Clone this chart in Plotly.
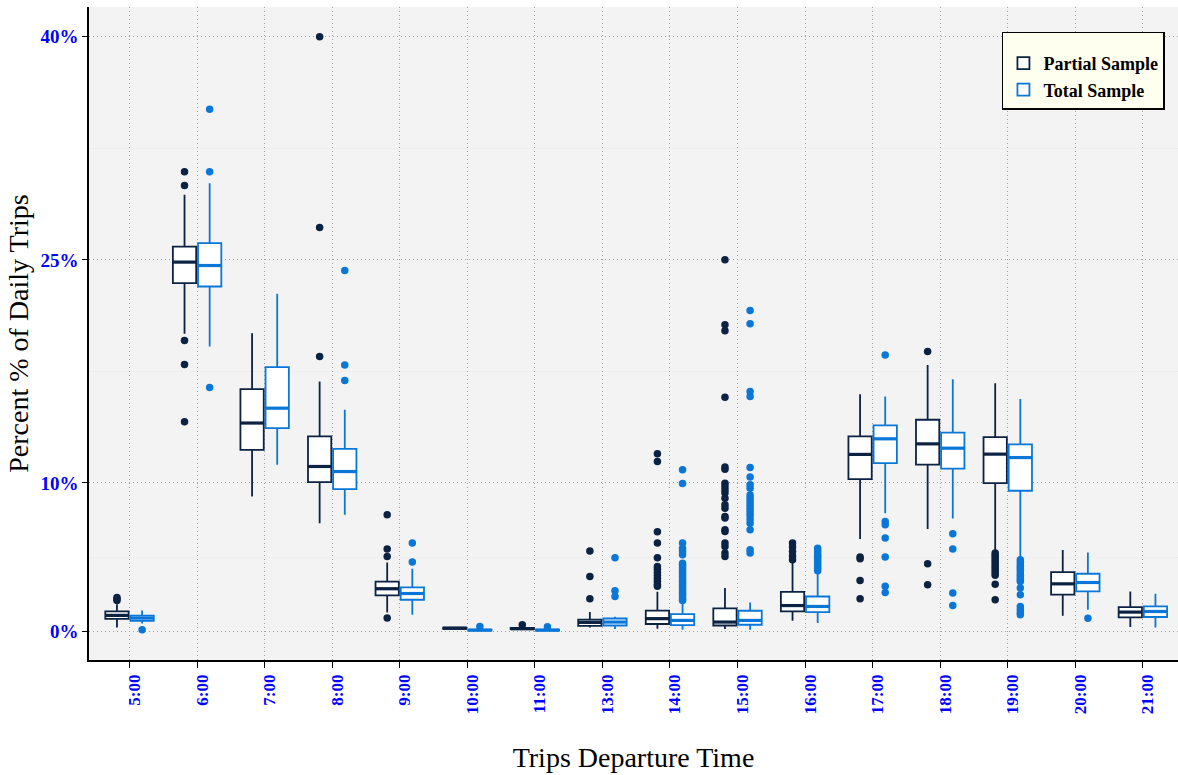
import plotly.graph_objects as go

# Departure hours (categories on the x axis)
hours = ["5:00", "6:00", "7:00", "8:00", "9:00", "10:00", "11:00", "13:00",
         "14:00", "15:00", "16:00", "17:00", "18:00", "19:00", "20:00", "21:00"]

# Box statistics, percent of daily trips — Partial Sample
partial_lower = [0.29, 20.03, 9.09, 7.30, 1.30, 0.15, 0.12, 0.29, 0.20, 0.18, 0.74, 6.23, 6.90, 5.40, 1.08, 0.32]
partial_q1 = [0.87, 23.43, 12.23, 10.06, 2.44, 0.20, 0.17, 0.40, 0.52, 0.42, 1.37, 10.26, 11.24, 9.99, 2.49, 0.96]
partial_median = [1.10, 24.85, 14.03, 11.11, 2.89, 0.24, 0.20, 0.63, 0.88, 0.65, 1.76, 11.92, 12.63, 11.94, 3.22, 1.32]
partial_q3 = [1.37, 25.89, 16.31, 13.13, 3.37, 0.28, 0.25, 0.81, 1.42, 1.57, 2.68, 13.13, 14.25, 13.08, 4.01, 1.66]
partial_upper = [1.85, 29.37, 20.07, 16.82, 4.65, 0.32, 0.30, 1.32, 2.68, 2.94, 4.64, 15.97, 17.94, 16.71, 5.49, 2.71]
partial_outliers = [
    [2.10, 2.20, 2.30],
    [30.93, 30.00, 19.58, 17.96, 14.11],
    [],
    [40.00, 27.17, 18.50],
    [7.86, 5.56, 5.06, 0.92],
    [],
    [0.47],
    [5.42, 3.72, 2.22],
    [11.96, 11.45, 6.72, 5.96, 4.97, 4.39, 4.20, 4.00, 3.80, 3.60, 3.40, 3.20, 3.05],
    [25.00, 20.63, 20.23, 15.77, 11.07, 10.93, 9.99, 9.77, 9.54, 9.32, 8.98, 8.53,
     8.31, 7.75, 7.64, 6.85, 6.74, 5.96, 5.73, 5.29, 5.06],
    [5.96, 5.70, 5.40, 5.10, 4.84],
    [5.02, 4.90, 3.45, 2.22],
    [18.84, 4.57, 3.16],
    [5.30, 5.15, 5.00, 4.85, 4.70, 4.55, 4.40, 4.25, 4.10, 3.95, 3.80, 3.20, 2.15],
    [],
    [],
]

# Box statistics, percent of daily trips — Total Sample
total_lower = [0.55, 19.18, 11.22, 7.86, 1.14, 0.05, 0.05, 0.18, 0.13, 0.13, 0.58, 7.97, 7.62, 4.95, 1.48, 0.29]
total_q1 = [0.74, 23.21, 13.69, 9.59, 2.15, 0.08, 0.08, 0.42, 0.45, 0.47, 1.32, 11.33, 10.97, 9.48, 2.71, 0.99]
total_median = [0.92, 24.62, 15.03, 10.77, 2.57, 0.11, 0.11, 0.65, 0.76, 0.76, 1.70, 12.97, 12.34, 11.71, 3.31, 1.36]
total_q3 = [1.08, 26.12, 17.79, 12.30, 2.98, 0.14, 0.14, 0.89, 1.19, 1.41, 2.37, 13.87, 13.39, 12.59, 3.90, 1.70]
total_upper = [1.43, 30.15, 22.72, 14.92, 4.23, 0.20, 0.20, 1.00, 1.97, 1.97, 3.94, 15.81, 16.98, 15.64, 5.33, 2.55]
total_outliers = [
    [0.13],
    [35.13, 30.93, 16.42],
    [],
    [24.28, 17.94, 16.89],
    [5.96, 4.68],
    [0.36],
    [0.34],
    [4.97, 2.76, 2.37],
    [10.89, 9.97, 5.96, 5.62, 5.40, 5.17, 4.60, 4.45, 4.30, 4.15, 4.00, 3.85, 3.70,
     3.55, 3.40, 3.25, 3.10, 2.95, 2.80, 2.65, 2.50, 2.35, 2.20, 2.10],
    [21.59, 20.70, 16.15, 15.81, 11.04, 10.40, 9.88, 9.65, 9.20, 9.00, 8.80, 8.60,
     8.40, 8.20, 8.00, 7.80, 7.55, 7.30, 6.85, 5.51, 5.30],
    [5.62, 5.45, 5.30, 5.15, 5.00, 4.85, 4.70, 4.55, 4.40, 4.25, 4.10],
    [18.60, 7.41, 7.19, 6.30, 5.02, 3.05, 2.64],
    [6.59, 5.56, 2.60, 1.77],
    [4.84, 4.70, 4.55, 4.40, 4.25, 4.10, 3.95, 3.80, 3.65, 3.50, 3.38, 2.94, 2.49,
     1.70, 1.50, 1.30, 1.14],
    [0.90],
    [],
]

y_ticks = [0, 10, 25, 40]
y_tick_labels = ["0%", "10%", "25%", "40%"]
y_minor = [5, 17.5, 32.5]

PARTIAL_COLOR = "#0b2242"
TOTAL_COLOR = "#0a77d8"
BOX_WIDTH = 0.345
DODGE = 0.186
GRID_DASH = "1px,3px"

series = [
    ("Partial Sample", PARTIAL_COLOR, -DODGE, partial_lower, partial_q1, partial_median,
     partial_q3, partial_upper, partial_outliers),
    ("Total Sample", TOTAL_COLOR, DODGE, total_lower, total_q1, total_median,
     total_q3, total_upper, total_outliers),
]

fig = go.Figure()

for name, color, shift, lo, q1, med, q3, hi, outs in series:
    pos = [i + shift for i in range(len(hours))]
    fig.add_trace(go.Box(
        name=name, x=pos, q1=q1, median=med, q3=q3,
        lowerfence=lo, upperfence=hi,
        width=BOX_WIDTH, whiskerwidth=0, boxpoints=False,
        fillcolor="white", line=dict(color=color, width=1.8),
        hoverinfo="skip",
    ))

for name, color, shift, lo, q1, med, q3, hi, outs in series:
    # thicker median bars
    mx, my = [], []
    for i, m in enumerate(med):
        c = i + shift
        mx += [c - BOX_WIDTH / 2, c + BOX_WIDTH / 2, None]
        my += [m, m, None]
    fig.add_trace(go.Scatter(x=mx, y=my, mode="lines", showlegend=False,
                             line=dict(color=color, width=3.2), hoverinfo="skip"))
    # outlying points
    ox, oy = [], []
    for i, pts in enumerate(outs):
        ox += [i + shift] * len(pts)
        oy += pts
    fig.add_trace(go.Scatter(x=ox, y=oy, mode="markers", showlegend=False,
                             marker=dict(color=color, size=7.5), hoverinfo="skip"))

fig.update_layout(
    width=1178, height=775,
    margin=dict(l=89, r=0, t=7, b=115),
    paper_bgcolor="white",
    plot_bgcolor="#f3f3f3",
    font=dict(family="Liberation Serif", color="black"),
    legend=dict(
        x=0.988, xanchor="right", y=0.962, yanchor="top",
        bgcolor="#fffff0", bordercolor="black", borderwidth=1.5,
        font=dict(family="Liberation Serif", size=18, color="black", weight="bold"),
        title=dict(text=" ", font=dict(size=9)),
        tracegroupgap=0,
    ),
    showlegend=True,
)

fig.update_xaxes(
    range=[-0.6, 15.52],
    tickmode="array", tickvals=list(range(len(hours))), ticktext=hours,
    tickangle=-90, ticklabelshift=5,
    tickfont=dict(family="Liberation Serif", size=17, color="blue", weight="bold"),
    ticks="outside", ticklen=6, tickcolor="black", tickwidth=1,
    showgrid=True, gridcolor="#a0a0a0", griddash=GRID_DASH, gridwidth=1,
    showline=True, linecolor="black", linewidth=1.6, mirror=False,
    zeroline=False,
    title=dict(text="Trips Departure Time", standoff=34,
               font=dict(family="Liberation Serif", size=28, color="black")),
)

fig.update_yaxes(
    range=[-1.9, 42.0],
    tickmode="array", tickvals=y_ticks, ticktext=y_tick_labels,
    tickfont=dict(family="Liberation Serif", size=19, color="blue", weight="bold"),
    ticks="outside", ticklen=5, tickcolor="black", tickwidth=1,
    showgrid=True, gridcolor="#a0a0a0", griddash=GRID_DASH, gridwidth=1,
    minor=dict(tickvals=y_minor, showgrid=True, gridcolor="#e4e4e4", gridwidth=1, ticks=""),
    showline=True, linecolor="black", linewidth=1.6, mirror=False,
    zeroline=False,
    title=dict(text="Percent % of Daily Trips", standoff=4,
               font=dict(family="Liberation Serif", size=28, color="black")),
)

fig.write_html("out.html")
